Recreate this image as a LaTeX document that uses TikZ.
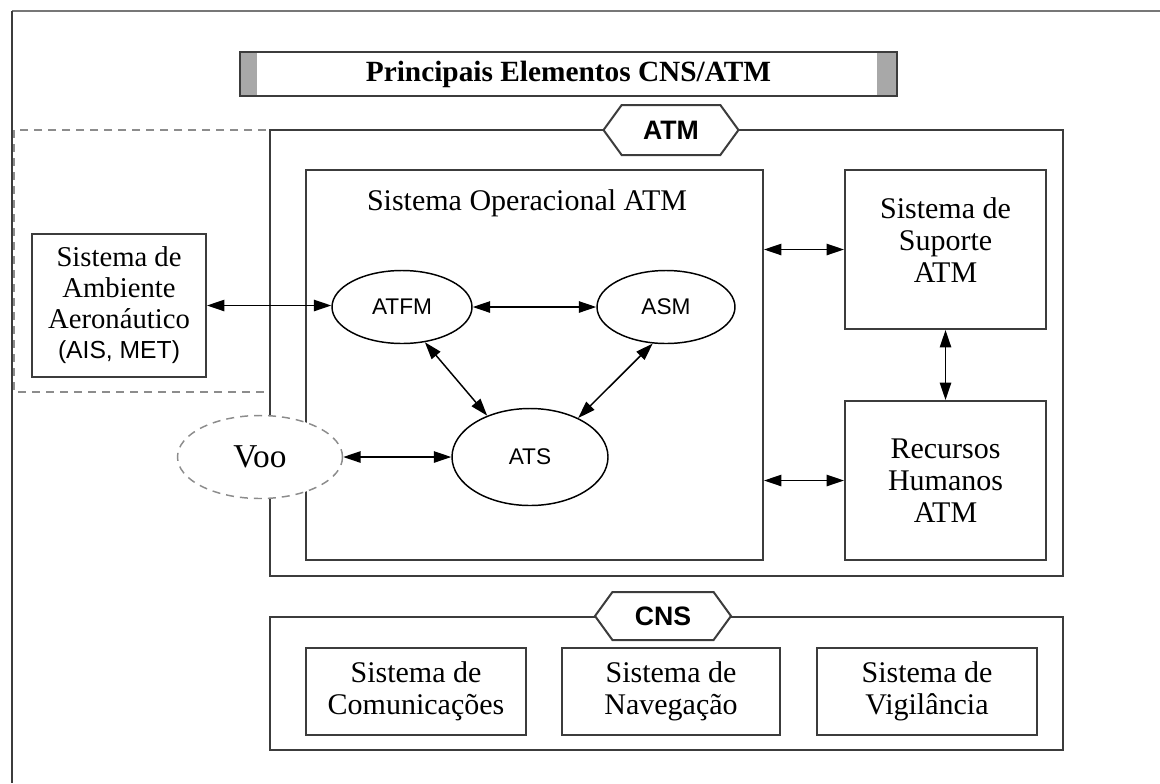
\documentclass[tikz,border=0pt]{standalone}
\usepackage{fontspec}
\setmainfont{Liberation Serif}
\setsansfont{Liberation Sans}
\usetikzlibrary{shapes.geometric,shapes.symbols,arrows.meta}

\begin{document}
\begin{tikzpicture}[x=0.75pt,y=-0.75pt,
	box/.style={draw=rahmen,line width=1.5pt,align=center,inner sep=0pt,font=\fontsize{22.5}{24}\selectfont},
	ell/.style={draw,ellipse,fill=white,line width=1.1pt,inner sep=0pt,font=\sffamily\fontsize{17}{19}\selectfont},
	hexa/.style={draw=rahmen,fill=white,line width=1.5pt,shape=signal,signal to=west and east,signal pointer angle=108,inner sep=0pt,font=\sffamily\bfseries\fontsize{20}{22}\selectfont},
	pfeil/.style={{Triangle[length=13pt,width=8.5pt]}-{Triangle[length=13pt,width=8.5pt]},line width=1.1pt}]
			\definecolor{rahmen}{HTML}{3C3C3C}
			\definecolor{strich}{HTML}{8C8C8C}
			\definecolor{balken}{HTML}{A8A8A8}
			\useasboundingbox (0,0) rectangle (1160,783);
			% frame
			\draw[line width=1.2pt,rahmen!70] (1160,11) -- (12,11);
			\draw[line width=2pt,rahmen] (12,11) -- (12,783);
			% title
			\node[box,minimum width=492.75pt,minimum height=33pt,font=\bfseries\fontsize{22}{24}\selectfont,
				path picture={\fill[balken] (path picture bounding box.north west) rectangle ([xshift=13pt]path picture bounding box.south west);
					\fill[balken] (path picture bounding box.north east) rectangle ([xshift=-15pt]path picture bounding box.south east);}]
				(title) at (568.5,74) {Principais Elementos CNS/ATM};
			% environment (dashed)
			\draw[strich,line width=1.1pt,dash pattern=on 6pt off 4.5pt] (14,130) rectangle (270,392);
			% ATM
			\node[box,minimum width=594.75pt,minimum height=334.5pt] (atm) at (666.5,353) {};
			\node[hexa,minimum width=101.25pt,minimum height=37.5pt] (atmLbl) at (671,130) {ATM};
			\node[box,minimum width=342.75pt,minimum height=292.5pt] (op) at (534.5,365) {};
			\node[font=\fontsize{22.5}{24}\selectfont] (opTit) at (527,203) {Sistema Operacional ATM};
			\node[box,minimum width=150.75pt,minimum height=119.25pt] (sup) at (945.5,249.5) {Sistema de\\Suporte\\ATM\\[-10.5pt]};
			\node[box,minimum width=150.75pt,minimum height=119.25pt] (rh) at (945.5,480.5) {Recursos\\Humanos\\ATM};
			\node[box,fill=white,minimum width=130.5pt,minimum height=107.25pt,font=\fontsize{21.5}{23}\selectfont] (amb) at (119,305.5) {Sistema de\\Ambiente\\Aeronáutico\\{\sffamily\fontsize{18.5}{20}\selectfont(AIS, MET)}};
			% ellipses
			\node[ell,minimum width=105pt,minimum height=54.75pt] (atfm) at (402,307) {ATFM};
			\node[ell,minimum width=103.5pt,minimum height=54.75pt] (asm) at (666,307) {ASM};
			\node[ell,minimum width=117pt,minimum height=72.75pt] (ats) at (530,457) {ATS};
			\node[ell,draw=strich,dash pattern=on 6pt off 4.5pt,font=\fontsize{25}{27}\selectfont,minimum width=123.75pt,minimum height=62.25pt] (voo) at (260,457) {Voo};
			% CNS
			\node[box,minimum width=594.75pt,minimum height=99.75pt] (cns) at (666.5,683.5) {};
			\node[hexa,minimum width=102pt,minimum height=36pt] (cnsLbl) at (663,616) {CNS};
			\node[box,minimum width=165pt,minimum height=65.25pt] (com) at (416,691.5) {Sistema de\\Comunicações};
			\node[box,minimum width=163.5pt,minimum height=65.25pt] (nav) at (671,691.5) {Sistema de\\Navegação};
			\node[box,minimum width=165pt,minimum height=65.25pt] (vig) at (927,691.5) {Sistema de\\Vigilância};
			% arrows
			\draw[pfeil] (amb.east) -- (amb.east -| atfm.west);
			\draw[pfeil] (atfm) -- (asm);
			\draw[pfeil] (atfm.-57) -- (ats.136);
			\draw[pfeil] (asm.-110) -- (ats.39);
			\draw[pfeil] (voo) -- (ats);
			\draw[pfeil] (op.east |- sup) -- (sup.west);
			\draw[pfeil] (op.east |- rh) -- (rh.west);
			\draw[pfeil] (sup) -- (rh);
			
\end{tikzpicture}
\end{document}
